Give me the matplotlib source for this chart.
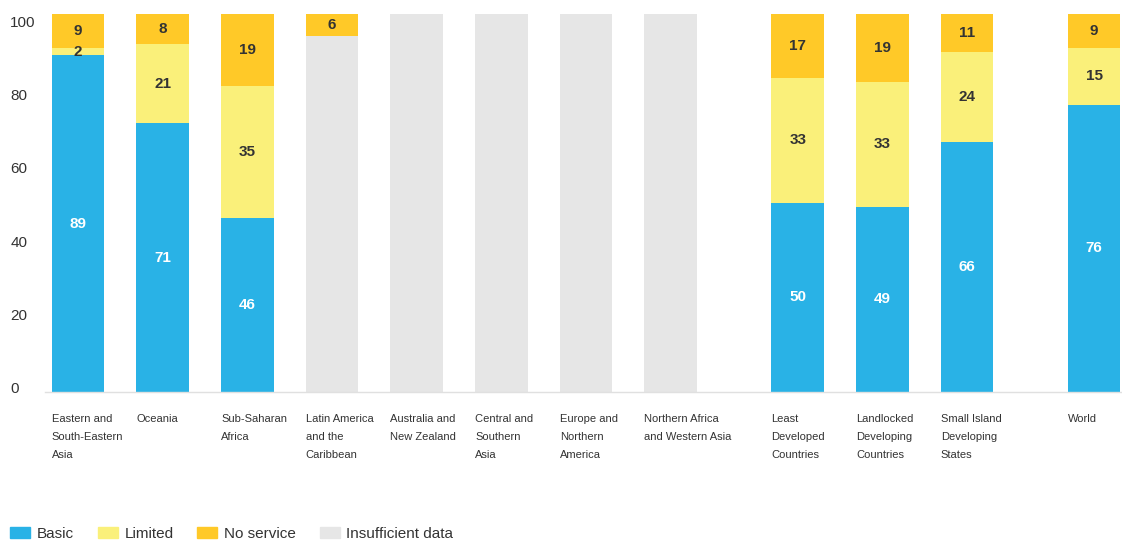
import numpy as np
import matplotlib.pyplot as plt
from matplotlib.patches import Patch

categorias = ['Eastern and\nSouth-Eastern\nAsia', 'Oceania', 'Sub-Saharan\nAfrica',
              'Latin America\nand the\nCaribbean', 'Australia and\nNew Zealand',
              'Central and\nSouthern\nAsia', 'Europe and\nNorthern\nAmerica',
              'Northern Africa\nand Western Asia', 'Least\nDeveloped\nCountries',
              'Landlocked\nDeveloping\nCountries', 'Small Island\nDeveloping\nStates', 'World']
basic = [89, 71, 46, 0, 0, 0, 0, 0, 50, 49, 66, 76]
limited = [2, 21, 35, 0, 0, 0, 0, 0, 33, 33, 24, 15]
no_service = [9, 8, 19, 6, 0, 0, 0, 0, 17, 19, 11, 9]
insuficiente = [0, 0, 0, 94, 100, 100, 100, 100, 0, 0, 0, 0]

c_basic = '#29b2e6'
c_lim = '#faf07a'
c_no = '#ffc928'
c_gris = '#e6e6e6'

fuente = ['Liberation Sans', 'DejaVu Sans']
plt.rcParams['font.family'] = fuente

x = np.array([0, 1, 2, 3, 4, 5, 6, 7, 8.5, 9.5, 10.5, 12])
w = 0.62
basic = np.array(basic)
limited = np.array(limited)
no_service = np.array(no_service)
insuficiente = np.array(insuficiente)
base_no = basic + limited + insuficiente
# las barras llegan todas hasta 100 (redondeo)
alto_no = np.minimum(no_service, 100 - base_no)

rect = [0.0401, 0.2807, 0.9599, 0.701]
fig = plt.figure(figsize=(11.22, 5.45), dpi=100)

# eje solo para las etiquetas del eje y
ax_t = fig.add_axes(rect, frameon=False)
ax_t.set_ylim(-1.37, 103.29)
ax_t.set_yticks([0, 20, 40, 60, 80, 100])
ax_t.set_xticks([])
ax_t.tick_params(axis='y', length=0, pad=25, labelsize=11, labelcolor='#333333')
for t in ax_t.get_yticklabels():
    t.set_horizontalalignment('left')

ax = fig.add_axes(rect)
ax.patch.set_alpha(0)

ax.bar(x, basic, w, color=c_basic)
ax.bar(x, limited, w, bottom=basic, color=c_lim)
ax.bar(x, insuficiente, w, bottom=basic + limited, color=c_gris)
ax.bar(x, alto_no, w, bottom=base_no, color=c_no)

def etiquetas(vals, alturas, bottoms, color):
    for xi, v, h, b in zip(x, vals, alturas, bottoms):
        if v > 0:
            ax.text(xi, b + h / 2, str(v), ha='center', va='center', color=color,
                    fontsize=11, fontweight='bold')

etiquetas(basic, basic, np.zeros(len(x)), 'white')
etiquetas(limited, limited, basic, '#333333')
etiquetas(no_service, alto_no, base_no, '#333333')

ax.set_xlim(-0.39, 12.33)
ax.set_ylim(0, 101)
ax.set_yticks([])
ax.set_xticks([])
for s in ['top', 'right', 'left']:
    ax.spines[s].set_visible(False)
ax.spines['bottom'].set_color('#e0e0e0')
ax.spines['bottom'].set_linewidth(1)

for xi, cat in zip(x, categorias):
    ax.text(xi - w / 2, -5.9, cat, ha='left', va='top', fontsize=8, color='#333333',
            linespacing=2.0)

handles = [Patch(color=c_basic, label='Basic'), Patch(color=c_lim, label='Limited'),
           Patch(color=c_no, label='No service'), Patch(color=c_gris, label='Insufficient data')]
fig.legend(handles=handles, loc='lower left', bbox_to_anchor=(-0.003, -0.018), ncol=4,
           frameon=False, fontsize=11, handlelength=1.3, handleheight=0.75,
           handletextpad=0.45, columnspacing=1.55, labelcolor='#333333')

fig.savefig('out.png')
